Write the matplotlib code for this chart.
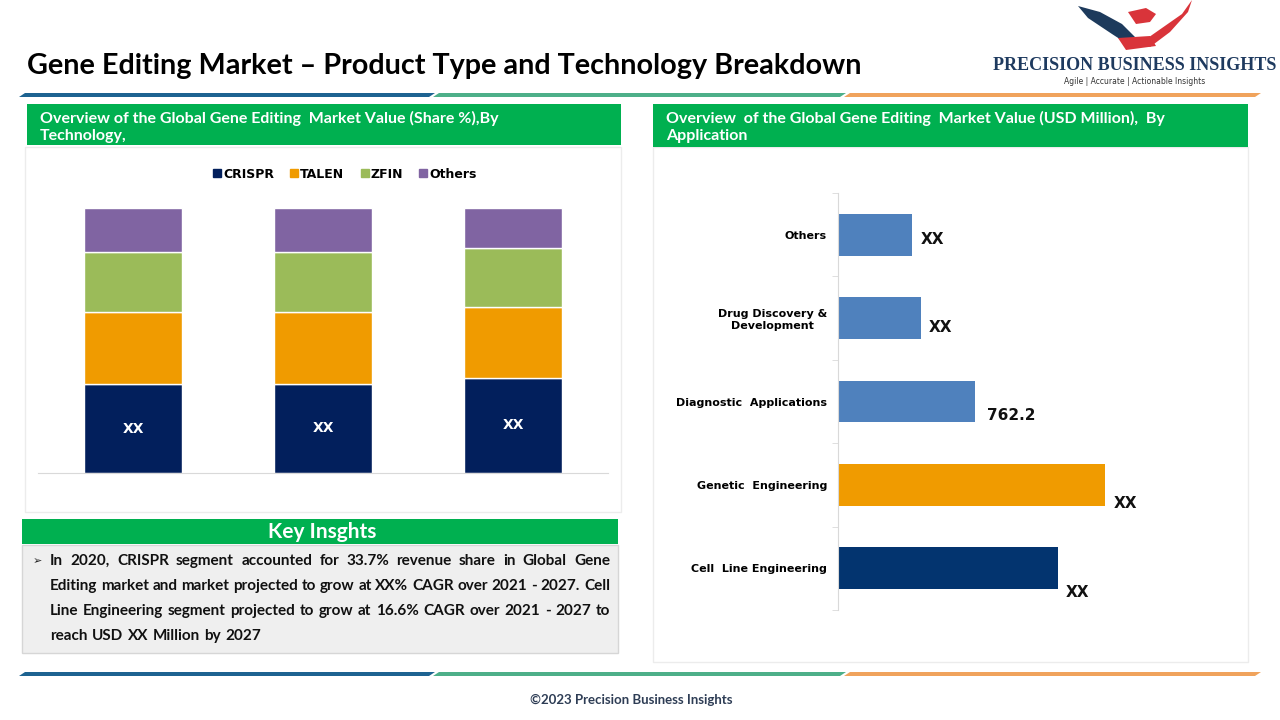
import matplotlib
matplotlib.use("Agg")
import matplotlib.pyplot as plt
from matplotlib.patches import Rectangle, Polygon
from matplotlib.lines import Line2D
import numpy as np

W, H = 1280, 720

# ---- data ----
tech_names = ["CRISPR", "TALEN", "ZFIN", "Others"]
tech_share = {
    "CRISPR": [33.4, 33.6, 36.0],
    "TALEN": [27.2, 27.2, 26.8],
    "ZFIN": [22.9, 22.7, 22.1],
    "Others": [16.5, 16.5, 15.1],
}
tech_labels = ["XX", "XX", "XX"]

app_names = ["Others", "Drug Discovery &\nDevelopment", "Diagnostic  Applications",
             "Genetic  Engineering", "Cell  Line Engineering"]
app_values = [413, 461, 762.2, 1487, 1221]
app_labels = ["XX", "XX", "762.2", "XX", "XX"]

insight_lines = [
    "In 2020, CRISPR segment accounted for 33.7% revenue share in Global Gene",
    "Editing market and market projected to grow at XX% CAGR over 2021 - 2027. Cell",
    "Line Engineering segment projected to grow at 16.6% CAGR over 2021 - 2027 to",
    "reach USD XX Million by 2027",
]

# ---- style ----
GREEN = "#00b050"
tech_colors = {"CRISPR": "#021f5c", "TALEN": "#f09b00", "ZFIN": "#9bbb59", "Others": "#8064a2"}
app_colors = ["#4f81bd", "#4f81bd", "#4f81bd", "#f09b00", "#03346f"]
NARROW = ["Lato", "DejaVu Sans"]


def fx(x):
    return x / W


def fy(y):
    return 1 - y / H


def box(fig, x0, y0, x1, y1, **kw):
    fig.patches.append(Rectangle((fx(x0), fy(y1)), fx(x1 - x0), (y1 - y0) / H,
                                 transform=fig.transFigure, zorder=-5, **kw))


def stripe(fig, y, segs, colors, t=4):
    for (a, b), c in zip(segs, colors):
        pts = [(a + 3, y - t / 2), (b + 3, y - t / 2), (b - 3, y + t / 2), (a - 3, y + t / 2)]
        fig.patches.append(Polygon([(fx(px), fy(py)) for px, py in pts], closed=True,
                                   transform=fig.transFigure, color=c, lw=0, zorder=-5))


fig = plt.figure(figsize=(12.8, 7.2), dpi=100)
fig.patch.set_facecolor("white")

# title
fig.text(fx(27), fy(66), "Gene Editing Market \u2013 Product Type and Technology Breakdown",
         family=NARROW, weight="bold", fontsize=20.7, va="center", ha="left", color="black")

# logo
wing_l = [(1078, 6), (1100, 12), (1122, 24), (1140, 42), (1132, 47), (1112, 34), (1088, 18)]
wing_r = [(1192, 0), (1182, 14), (1162, 28), (1142, 42), (1150, 47), (1170, 32), (1188, 12)]
head = [(1128, 12), (1146, 8), (1156, 14), (1150, 22), (1136, 24)]
hand = [(1118, 38), (1150, 36), (1156, 46), (1126, 50)]
for pts, c in [(wing_l, "#1d3a5c"), (wing_r, "#d9343a"), (head, "#d9343a"), (hand, "#d9343a")]:
    fig.patches.append(Polygon([(fx(a), fy(b)) for a, b in pts], closed=True,
                               transform=fig.transFigure, color=c, lw=0))
fig.text(fx(1135), fy(66), "PRECISION BUSINESS INSIGHTS", family="Liberation Serif",
         weight="bold", fontsize=13, color="#1e3a5f", ha="center", va="center")
fig.text(fx(1135), fy(81), "Agile | Accurate | Actionable Insights", fontsize=5.5,
         color="#333333", ha="center", va="center")

# stripes
stripe_segs = [(22, 432), (436, 843), (847, 1258)]
stripe_cols = ["#1d6391", "#4daf89", "#f0a35c"]
stripe(fig, 95, stripe_segs, stripe_cols)
stripe(fig, 674, stripe_segs, stripe_cols)

# left panel
box(fig, 25, 147, 621, 512, facecolor="white", edgecolor="#ececec", lw=1)
box(fig, 27, 104, 621, 145, facecolor=GREEN, edgecolor="none")
fig.text(fx(40), fy(127), "Overview of the Global Gene Editing  Market Value (Share %),By\nTechnology,",
         family=NARROW, weight="bold", fontsize=11.5, color="white", va="center", ha="left",
         linespacing=1.2)

ax1 = fig.add_axes([fx(38), fy(473), fx(608 - 38), (473 - 208) / H])
x = np.arange(len(tech_labels))
bottom = np.zeros(len(x))
for name in tech_names:
    vals = np.array(tech_share[name])
    ax1.bar(x, vals, width=0.515, bottom=bottom, color=tech_colors[name],
            edgecolor="white", lw=1, label=name)
    if name == "CRISPR":
        for xi, v, lab in zip(x, vals, tech_labels):
            ax1.text(xi, v / 2, lab, color="white", weight="bold", fontsize=10,
                     ha="center", va="center")
    bottom += vals
ax1.set_xlim(-0.5, 2.5)
ax1.set_ylim(0, 100)
for s in ["top", "right", "left"]:
    ax1.spines[s].set_visible(False)
ax1.spines["bottom"].set_color("#d9d9d9")
ax1.set_xticks([])
ax1.set_yticks([])
handles = [Line2D([], [], marker="s", ls="none", markersize=6, color=tech_colors[n]) for n in tech_names]
fig.legend(handles, tech_names, loc="center", bbox_to_anchor=(fx(345), fy(174)), ncol=4,
           frameon=False, handlelength=0.6, handletextpad=0.2, columnspacing=1.3,
           prop={"weight": "bold", "size": 9})

# key insights
box(fig, 22, 519, 618, 544, facecolor=GREEN, edgecolor="none")
fig.text(fx(322), fy(532), "Key Insghts", family=NARROW, weight="bold", fontsize=15,
         color="white", ha="center", va="center")
box(fig, 22, 545, 618, 653, facecolor="#efefef", edgecolor="#d6d6d6", lw=1)
fig.text(fx(37), fy(561), "\u27a2", fontsize=8, ha="center", va="center", color="#222222")

renderer = fig.canvas.get_renderer()
line_y = [561, 586, 611, 636]
for i, (line, yy) in enumerate(zip(insight_lines, line_y)):
    words = line.split()
    texts = [fig.text(0, fy(yy), w, family=NARROW, weight="bold", fontsize=11,
                      color="#111111", va="center", ha="left") for w in words]
    widths = [t.get_window_extent(renderer).width for t in texts]
    if i < len(insight_lines) - 1:
        gap = (610 - 50 - sum(widths)) / (len(words) - 1)
    else:
        gap = 4.5
    xpos = 50
    for t, wd in zip(texts, widths):
        t.set_x(fx(xpos))
        xpos += wd + gap

# right panel
box(fig, 653, 147, 1248, 662, facecolor="white", edgecolor="#ececec", lw=1)
box(fig, 653, 104, 1248, 147, facecolor=GREEN, edgecolor="none")
fig.text(fx(666), fy(127), "Overview  of the Global Gene Editing  Market Value (USD Million),  By\nApplication",
         family=NARROW, weight="bold", fontsize=11.5, color="white", va="center", ha="left",
         linespacing=1.2)

ax2 = fig.add_axes([fx(838), fy(610), fx(1800 / 5.56), (610 - 193) / H])
y = np.arange(len(app_names))
ax2.barh(y, app_values, height=0.5, color=app_colors)
ax2.set_ylim(-0.5, len(app_names) - 0.5)
ax2.invert_yaxis()
ax2.set_xlim(0, 1800)
ax2.set_yticks(y)
ax2.set_yticklabels(app_names, fontsize=8, weight="bold", multialignment="center")
ax2.tick_params(axis="y", which="major", length=0, pad=8)
ax2.set_yticks(np.arange(len(app_names) + 1) - 0.5, minor=True)
ax2.tick_params(axis="y", which="minor", length=4, color="#d9d9d9")
ax2.set_xticks([])
for s in ["top", "right", "bottom"]:
    ax2.spines[s].set_visible(False)
ax2.spines["left"].set_color("#d9d9d9")
label_dy = [5, 9, 14, 19, 24]
for yi, v, lab, dy in zip(y, app_values, app_labels, label_dy):
    dx = 12 if "." in lab else 8
    ax2.annotate(lab, (v, yi), xytext=(dx, -dy), textcoords="offset pixels",
                 fontsize=11, weight="bold", ha="left", va="center", color="#111111")

# footer
fig.text(fx(631), fy(700), "\u00a92023 Precision Business Insights", family=NARROW,
         weight="bold", fontsize=9.5, color="#2e3d55", ha="center", va="center")

fig.savefig("out.png", dpi=100)
